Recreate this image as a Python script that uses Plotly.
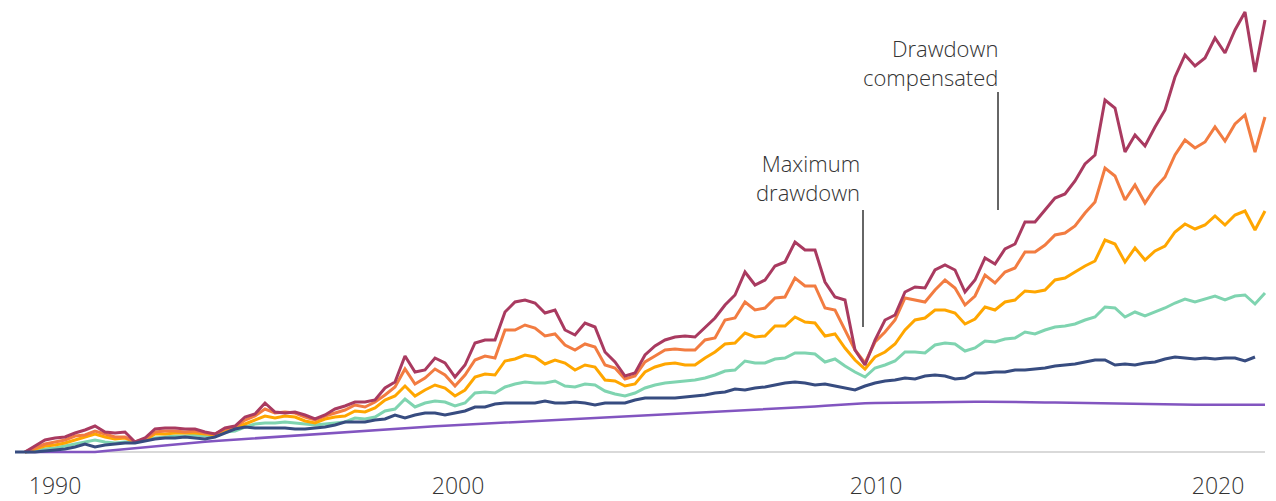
import plotly.graph_objects as go

# sample index along the time axis (one step per period)
period = list(range(126))

tick_pos = [4, 44.3, 86.1, 120.3]
tick_labels = ["1990", "2000", "2010", "2020"]

# portfolio values per series
magenta = [None, 0, 6, 12, 14, 15, 19, 22, 26, 20,
           19, 20, 10, 14, 23, 24, 24, 23, 23, 20,
           18, 24, 26, 35, 38, 49, 40, 39, 40, 37,
           33, 37, 43, 46, 50, 50, 52, 64, 70, 96,
           80, 82, 94, 89, 75, 87, 109, 112, 112, 140,
           150, 152, 149, 139, 142, 122, 117, 129, 125, 100,
           90, 76, 79, 97, 106, 112, 115, 116, 115, 125,
           134, 147, 157, 180, 167, 172, 186, 190, 210, 202,
           202, 170, 155, 152, 102, 87, 112, 132, 137, 160,
           165, 164, 182, 187, 182, 160, 172, 194, 188, 203,
           208, 230, 230, 242, 254, 258, 271, 288, 297, 352,
           344, 300, 317, 306, 325, 342, 375, 397, 386, 394,
           414, 399, 422, 440, 380, 432]

orange = [None, 0, 4, 8, 10, 12, 16, 17, 21, 18,
          15, 15, 10, 13, 20, 21, 21, 20, 21, 19,
          18, 23, 25, 32, 36, 43, 39, 40, 39, 35,
          32, 36, 39, 42, 47, 45, 50, 57, 65, 83,
          68, 74, 83, 77, 66, 77, 92, 96, 94, 122,
          122, 127, 124, 116, 118, 107, 102, 108, 105, 87,
          84, 73, 76, 90, 96, 102, 103, 102, 102, 112,
          114, 132, 134, 150, 142, 144, 154, 155, 174, 166,
          166, 144, 142, 122, 102, 89, 110, 120, 132, 154,
          152, 150, 162, 172, 164, 147, 156, 177, 169, 180,
          184, 200, 200, 207, 217, 219, 226, 239, 250, 284,
          276, 252, 267, 249, 264, 275, 297, 312, 304, 310,
          325, 311, 328, 337, 300, 335]

yellow = [None, 0, 3, 6, 7, 9, 12, 15, 18, 15,
          13, 14, 10, 12, 18, 18, 19, 19, 19, 18,
          17, 22, 24, 28, 32, 36, 34, 36, 35, 31,
          29, 33, 35, 36, 41, 40, 44, 52, 56, 66,
          56, 62, 67, 64, 56, 62, 75, 78, 77, 91,
          93, 97, 95, 88, 92, 89, 82, 87, 85, 72,
          71, 66, 68, 80, 85, 88, 89, 87, 87, 94,
          100, 108, 109, 119, 115, 116, 126, 126, 135, 130,
          129, 116, 118, 104, 92, 83, 95, 100, 108, 122,
          132, 134, 142, 142, 139, 128, 133, 145, 142, 150,
          152, 161, 160, 162, 172, 174, 180, 186, 191, 212,
          208, 190, 204, 192, 201, 206, 220, 228, 223, 227,
          236, 227, 237, 241, 222, 241]

green = [None, 0, 1, 3, 4, 6, 8, 10, 12, 10,
         9, 10, 10, 12, 14, 15, 16, 16, 17, 16,
         16, 20, 21, 25, 28, 29, 29, 30, 29, 28,
         27, 28, 29, 30, 34, 33, 35, 41, 43, 53,
         45, 49, 51, 50, 46, 49, 59, 60, 59, 65,
         68, 70, 69, 69, 71, 66, 65, 68, 67, 61,
         58, 56, 59, 64, 67, 69, 70, 71, 72, 74,
         77, 81, 82, 91, 89, 89, 93, 94, 99, 99,
         98, 90, 93, 86, 80, 75, 84, 87, 91, 100,
         100, 99, 107, 109, 108, 101, 104, 111, 110, 113,
         114, 120, 118, 122, 125, 126, 128, 132, 135, 145,
         144, 135, 140, 136, 140, 144, 149, 153, 150, 153,
         156, 152, 156, 157, 148, 159]

navy = [0, 0, 0, 1, 2, 3, 5, 8, 5, 7,
        8, 9, 9, 11, 13, 14, 14, 15, 14, 13,
        15, 19, 23, 25, 24, 24, 24, 24, 23, 23,
        24, 25, 27, 30, 30, 30, 32, 33, 37, 34,
        37, 39, 39, 37, 39, 41, 45, 45, 48, 49,
        49, 49, 49, 51, 49, 49, 50, 49, 47, 49,
        49, 49, 52, 54, 54, 54, 54, 55, 56, 57,
        59, 60, 63, 62, 64, 65, 67, 69, 70, 69,
        67, 68, 66, 64, 62, 66, 69, 71, 72, 74,
        73, 76, 77, 76, 73, 74, 79, 79, 80, 80,
        82, 82, 83, 84, 86, 87, 88, 90, 92, 92,
        87, 88, 87, 89, 90, 93, 95, 94, 93, 94,
        93, 94, 94, 91, 95, None]

purple = [None, 0, 0, 0, 0, 0, 0, 0, 0, 1,
          2, 3, 4, 5, 6, 7, 8, 9, 9.5, 10.3,
          11, 11.7, 12.4, 13.1, 13.8, 14.4, 15.1, 15.8, 16.5, 17.2,
          17.8, 18.5, 19.2, 19.9, 20.6, 21.3, 21.9, 22.6, 23.3, 24,
          24.7, 25.3, 25.8, 26.3, 26.8, 27.3, 27.8, 28.3, 28.8, 29.3,
          29.8, 30.3, 30.8, 31.3, 31.8, 32.3, 32.8, 33.3, 33.8, 34.3,
          34.8, 35.3, 35.8, 36.3, 36.8, 37.3, 37.8, 38.3, 38.8, 39.3,
          39.8, 40.3, 40.8, 41.3, 41.8, 42.3, 42.8, 43.4, 44.1, 44.8,
          45.5, 46.2, 46.9, 47.6, 48.3, 48.7, 48.9, 49.1, 49.3, 49.5,
          49.6, 49.7, 49.8, 49.9, 50, 50.1, 50.2, 50.3, 50.3, 50.3,
          50.2, 50, 49.8, 49.6, 49.4, 49.2, 49, 48.8, 48.6, 48.4,
          48.2, 48, 47.8, 47.6, 47.5, 47.4, 47.3, 47.2, 47.2, 47.2,
          47.2, 47.2, 47.2, 47.2, 47.2, 47.2]

series = [
    (purple, "#8255c0", 2.5),
    (green, "#7fd4b0", 3),
    (yellow, "#ffa600", 3),
    (orange, "#f27c41", 3),
    (magenta, "#a93a60", 3),
    (navy, "#374c80", 3),
]

fig = go.Figure()
for values, color, width in series:
    fig.add_trace(go.Scatter(
        x=period,
        y=values,
        mode="lines",
        line=dict(color=color, width=width),
        hoverinfo="skip",
    ))

# baseline
fig.add_shape(type="line", x0=0, x1=125, y0=0, y1=0,
              line=dict(color="#cccccc", width=1.5), layer="below")

# callout rules
fig.add_shape(type="line", x0=84.8, x1=84.8, y0=125, y1=242,
              line=dict(color="#333333", width=1.5))
fig.add_shape(type="line", x0=98.3, x1=98.3, y0=242, y1=360,
              line=dict(color="#333333", width=1.5))

note_font = dict(family="Open Sans", size=22, color="#333333", weight=300)
fig.add_annotation(x=84.7, y=274.5, text="Maximum<br>drawdown",
                   xanchor="right", yanchor="middle", align="right",
                   showarrow=False, font=note_font)
fig.add_annotation(x=98.5, y=389.5, text="Drawdown<br>compensated",
                   xanchor="right", yanchor="middle", align="right",
                   showarrow=False, font=note_font)

# page body has an 8px margin, so the figure is sized to fit inside the window
fig.update_layout(
    width=1268,
    height=493,
    margin=dict(l=2, r=6, t=0, b=31),
    showlegend=False,
    plot_bgcolor="white",
    paper_bgcolor="white",
    hovermode=False,
    xaxis=dict(
        range=[-0.5, 125.5],
        automargin=False,
        showgrid=False,
        zeroline=False,
        showline=False,
        tickvals=tick_pos,
        ticktext=tick_labels,
        ticks="",
        tickfont=dict(family="Open Sans", size=23, color="#333333", weight=300),
    ),
    yaxis=dict(
        range=[-18, 444],
        automargin=False,
        showgrid=False,
        zeroline=False,
        showline=False,
        showticklabels=False,
        ticks="",
    ),
)

fig.write_html("out.html")
